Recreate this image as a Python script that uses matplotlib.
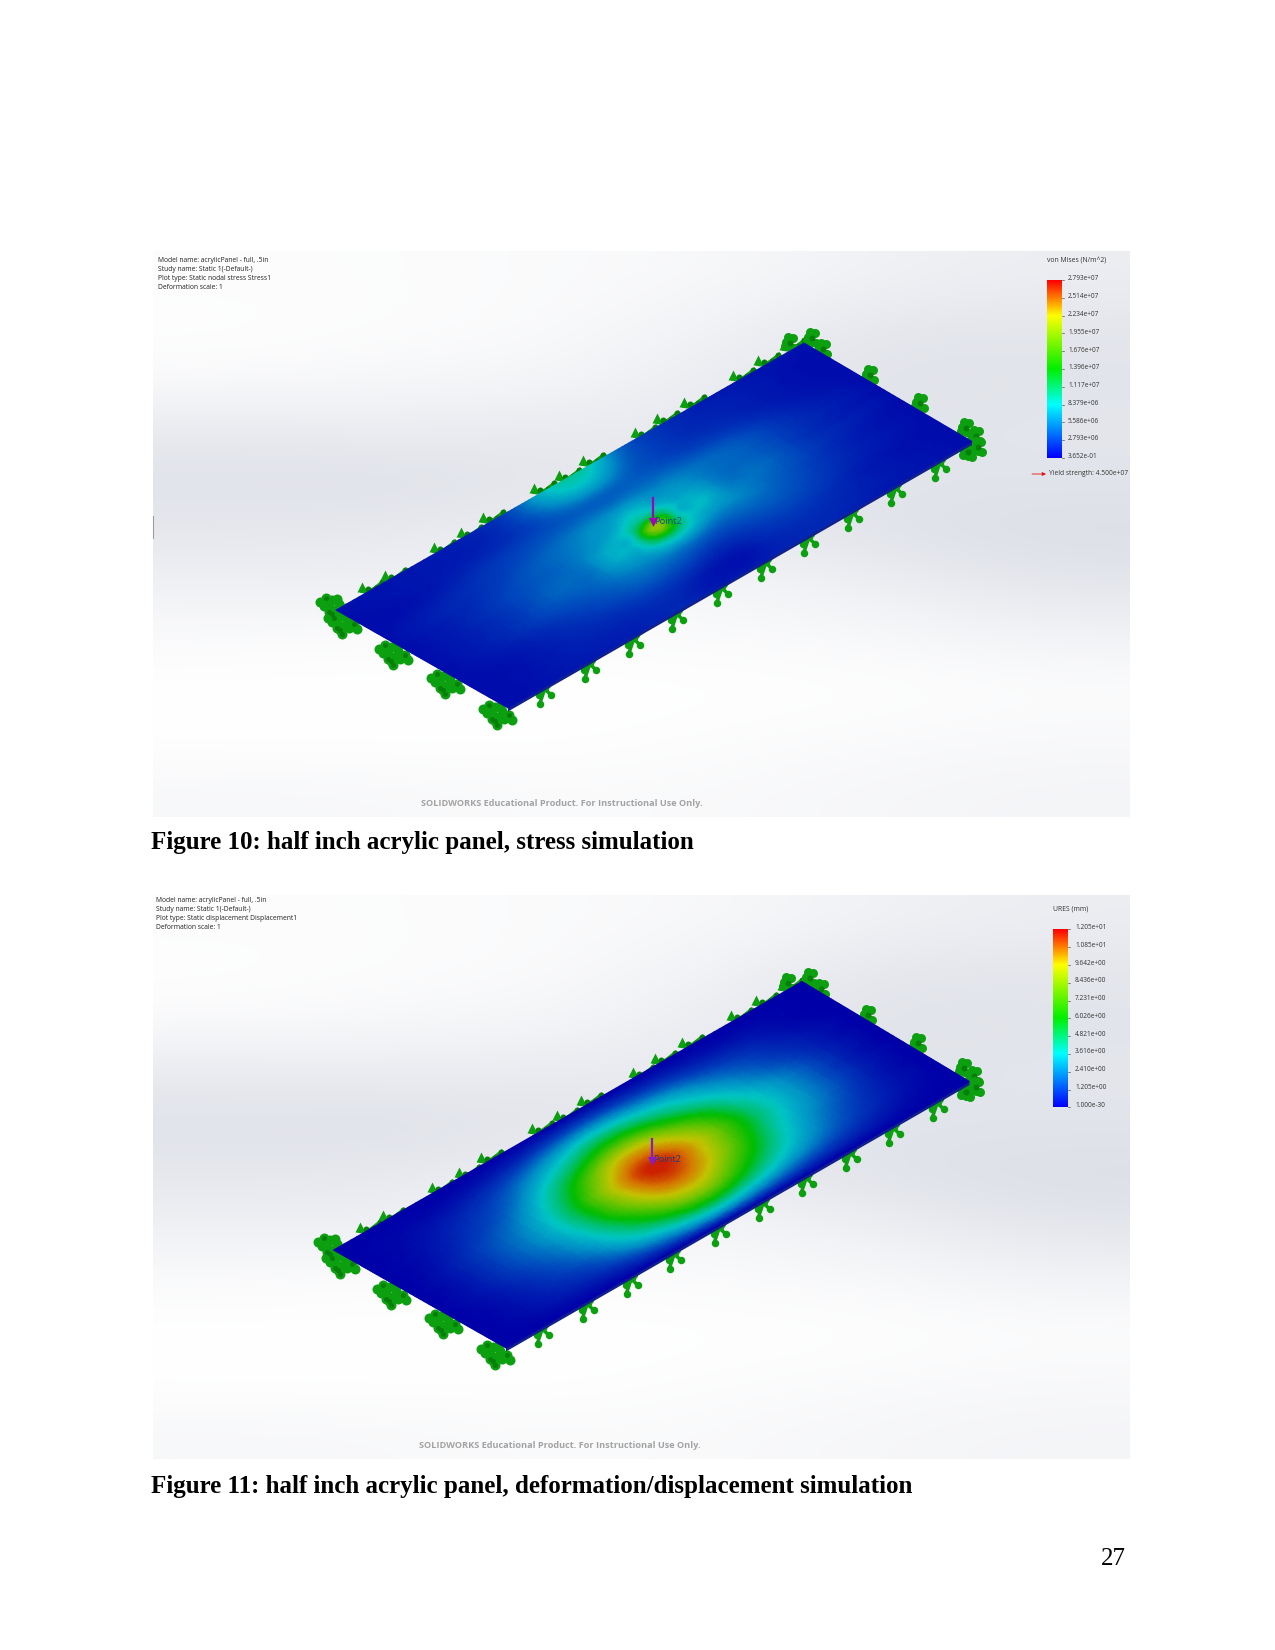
import matplotlib
matplotlib.use("Agg")
import numpy as np
import matplotlib.pyplot as plt
import matplotlib.tri as mtri
from matplotlib.colors import LinearSegmentedColormap
from matplotlib.patches import Polygon

# ---- data -----------------------------------------------------------------
U_POS = [0, .1, .2, .3, .36, .42, .46, .5, .54, .58, .64, .7, .8, .9, 1]
V_POS = [0, .1, .2, .3, .38, .44, .5, .56, .62, .7, .8, .9, 1]

# von Mises stress, percent of the scale maximum
STRESS = [
    [3, 3, 4, 6, 10, 22, 32, 36, 32, 20, 10, 7, 4, 3, 3],
    [2, 3, 4, 6, 10, 18, 24, 26, 22, 15, 10, 7, 5, 3, 2],
    [2, 3, 6, 9, 11, 13, 14, 14, 14, 13, 11, 9, 6, 3, 2],
    [2, 5, 8, 12, 15, 18, 19, 20, 19, 18, 16, 14, 9, 4, 2],
    [2, 5, 9, 14, 17, 21, 25, 30, 25, 22, 18, 15, 10, 5, 2],
    [2, 5, 10, 14, 18, 24, 32, 42, 34, 25, 19, 15, 10, 5, 2],
    [2, 5, 10, 15, 19, 26, 38, 70, 38, 27, 20, 16, 10, 5, 2],
    [2, 5, 10, 15, 19, 26, 38, 56, 36, 26, 20, 16, 10, 5, 2],
    [2, 5, 10, 14, 18, 22, 28, 32, 26, 20, 18, 15, 9, 4, 2],
    [2, 4, 8, 12, 15, 17, 17, 16, 14, 13, 14, 13, 8, 4, 2],
    [2, 3, 6, 9, 11, 11, 10, 8, 7, 8, 10, 10, 6, 3, 2],
    [2, 3, 5, 6, 7, 6, 4, 3, 3, 5, 7, 7, 5, 3, 2],
    [2, 3, 4, 5, 6, 5, 4, 4, 4, 5, 6, 6, 4, 3, 2],
]
# resultant displacement, percent of the scale maximum
DISPLACEMENT = [
    [0, 0, 0, 0, 0, 0, 0, 0, 0, 0, 0, 0, 0, 0, 0],
    [0, 1, 2, 5, 8, 12, 14, 15, 14, 12, 9, 6, 3, 1, 0],
    [0, 2, 6, 13, 21, 30, 36, 38, 36, 31, 24, 16, 8, 2, 0],
    [0, 3, 9, 21, 35, 49, 58, 62, 59, 51, 38, 26, 12, 4, 0],
    [0, 4, 12, 28, 46, 65, 77, 82, 78, 67, 51, 34, 16, 5, 0],
    [0, 5, 14, 32, 52, 73, 87, 93, 88, 76, 58, 39, 19, 6, 0],
    [0, 5, 15, 34, 56, 79, 94, 100, 95, 82, 62, 42, 20, 6, 0],
    [0, 5, 15, 34, 55, 78, 93, 99, 94, 81, 61, 42, 20, 6, 0],
    [0, 5, 14, 32, 53, 74, 88, 94, 89, 77, 58, 39, 19, 6, 0],
    [0, 4, 12, 28, 46, 65, 77, 82, 78, 67, 51, 34, 16, 5, 0],
    [0, 3, 9, 21, 35, 49, 58, 62, 59, 51, 38, 26, 12, 4, 0],
    [0, 2, 5, 11, 18, 26, 31, 33, 31, 27, 20, 14, 7, 2, 0],
    [0, 0, 0, 0, 0, 0, 0, 0, 0, 0, 0, 0, 0, 0, 0],
]
# viewport background brightness
BACKGROUND = [
    [252, 252, 250, 248, 240, 236],
    [254, 252, 250, 240, 228, 228],
    [250, 247, 245, 234, 224, 226],
    [232, 235, 232, 232, 226, 228],
    [224, 222, 228, 232, 226, 226],
    [230, 232, 238, 234, 224, 220],
    [240, 238, 245, 245, 238, 228],
    [250, 252, 252, 250, 248, 242],
    [255, 255, 255, 255, 254, 252],
    [255, 255, 255, 252, 250, 248],
    [247, 248, 250, 249, 246, 244],
]

STRESS_LABELS = ["2.793e+07", "2.514e+07", "2.234e+07", "1.955e+07", "1.676e+07", "1.396e+07",
                 "1.117e+07", "8.379e+06", "5.586e+06", "2.793e+06", "3.652e-01"]
DISP_LABELS = ["1.205e+01", "1.085e+01", "9.642e+00", "8.436e+00", "7.231e+00", "6.026e+00",
               "4.821e+00", "3.616e+00", "2.410e+00", "1.205e+00", "1.000e-30"]
STRESS_HEADER = ["Model name: acrylicPanel - full, .5in", "Study name: Static 1(-Default-)",
                 "Plot type: Static nodal stress Stress1", "Deformation scale: 1"]
DISP_HEADER = ["Model name: acrylicPanel - full, .5in", "Study name: Static 1(-Default-)",
               "Plot type: Static displacement Displacement1", "Deformation scale: 1"]
WATERMARK = "SOLIDWORKS Educational Product. For Instructional Use Only."
CAPTION_1 = "Figure 10: half inch acrylic panel, stress simulation"
CAPTION_2 = "Figure 11: half inch acrylic panel, deformation/displacement simulation"
PAGE_NUMBER = "27"

# fixture locations on the first view, page pixels
TOP_EDGE = [(362, 587), (385, 575), (434, 547), (461, 532), (483, 517), (534, 488), (559, 475),
            (583, 460), (635, 432), (657, 418), (684, 402), (733, 375), (758, 360), (784, 345)]
LOW_EDGE = [(552, 683), (597, 658), (641, 633), (684, 608), (729, 582), (773, 557), (816, 532),
            (860, 507), (903, 482), (947, 457)]
CLOVERS = [(870, 375), (920, 403), (966, 428), (976, 436), (978, 447), (968, 452),
           (790, 343), (812, 338), (823, 349)]
BLOBS = [(393, 653), (445, 682), (497, 713), (342, 622), (334, 606)]

PANEL_1 = dict(box=(153, 251, 1130, 817), L=(336, 610), T=(804, 343), R=(972, 441.5), B=(508, 708))
PANEL_2 = dict(box=(153, 895, 1130, 1459), L=(333.5, 1250), T=(802, 981.5), R=(969.5, 1081.5), B=(506, 1348))

# ---- colours ---------------------------------------------------------------
plate_cmap = LinearSegmentedColormap.from_list("plate", [
    (0.00, "#0000a8"), (0.10, "#0040bc"), (0.20, "#0090c6"), (0.30, "#00c6c6"),
    (0.34, "#00c4a8"), (0.42, "#00bf60"), (0.50, "#00bd00"), (0.65, "#70c400"), (0.78, "#c4c400"),
    (0.90, "#d67800"), (1.00, "#cc2000")])
legend_cmap = LinearSegmentedColormap.from_list("legend", [
    (0.00, "#0000ff"), (0.30, "#00ffff"), (0.50, "#00f000"), (0.80, "#ffff00"), (1.00, "#ff0000")])
bg_cmap = LinearSegmentedColormap.from_list("bg", ["#d8dbe4", "#ffffff"])

SANS = "Open Sans"
SERIF = "Liberation Serif"
GREEN = "#0c9f10"
DARK_GREEN = "#067f08"

fig = plt.figure(figsize=(8.5, 11), dpi=150, facecolor="white")
ax = fig.add_axes([0, 0, 1, 1])
ax.set_xlim(0, 1275)
ax.set_ylim(1650, 0)
ax.axis("off")


def px(d):
    """Marker area for a diameter given in page pixels."""
    return (d * 72 / 150) ** 2


def lw(d):
    return d * 72 / 150


def fixtures(dx, dy):
    for x, y in TOP_EDGE:
        x += dx; y += dy
        ax.scatter([x], [y], s=px(10), marker="^", color=GREEN, linewidths=0, zorder=3)
        ax.plot([x, x + 6, x + 12, x + 21], [y + 4, y + 5, y + 2, y - 5], color=GREEN, lw=lw(4), zorder=3)
        ax.scatter([x + 6, x + 14, x + 20], [y + 2, y + 1, y - 5], s=px(6), color=DARK_GREEN, linewidths=0, zorder=3)
    for x, y in LOW_EDGE:
        x += dx; y += dy
        ax.plot([x, x - 7, x - 12], [y, y + 5, y + 20], color=GREEN, lw=lw(3.5), zorder=3)
        ax.plot([x - 13, x - 7, x - 1], [y + 13, y + 6, y + 12], color=GREEN, lw=lw(3.5), zorder=3)
        ax.scatter([x - 7, x - 1, x - 13, x - 12], [y + 5, y + 12, y + 12, y + 21], s=px(7.5), color=GREEN, linewidths=0, zorder=3)
        ax.scatter([x - 5], [y + 2], s=px(7), color=GREEN, linewidths=0, zorder=3)
    for x, y in CLOVERS:
        x += dx; y += dy
        ax.scatter([x - 4, x + 3, x, x + 4, x - 2, x - 5], [y - 1, y - 5, y + 4, y + 5, y - 6, y + 3], s=px(9), color=GREEN, linewidths=0, zorder=3)
        ax.scatter([x], [y], s=px(6), color=DARK_GREEN, linewidths=0, zorder=3)
    for x, y in BLOBS:
        x += dx; y += dy
        xs = [x - 14, x - 8, x - 2, x + 5, x + 12, x - 5, x + 1, x, x - 10, x + 7, x - 2, x + 3, x + 15, x - 5]
        ys = [y - 4, y - 8, y - 6, y - 2, y + 2, y + 1, y + 4, y + 12, y + 0, y + 6, y + 8, y - 7, y + 7, y + 6]
        ax.scatter(xs, ys, s=px(10), color=GREEN, linewidths=0, zorder=3)
        ax.scatter(xs[1::3], ys[1::3], s=px(5), color=DARK_GREEN, linewidths=0, zorder=3)


def field(panel, table):
    L, T, R, B = [np.array(panel[k], float) for k in "LTRB"]
    ax.add_patch(Polygon([B, R, R + (0, 3.5), B + (0, 3.5)], closed=True, fc="#10208c", ec="none", zorder=4))
    uu, vv = np.meshgrid(U_POS, V_POS)
    n_u, n_v = len(U_POS), len(V_POS)
    cells = []
    for j in range(n_v - 1):
        for i in range(n_u - 1):
            p = j * n_u + i
            cells += [[p, p + 1, p + n_u], [p + 1, p + n_u + 1, p + n_u]]
    tri = mtri.Triangulation(uu.ravel(), vv.ravel(), triangles=np.array(cells))
    fine, values = mtri.UniformTriRefiner(tri).refine_field(np.array(table, float).ravel(), subdiv=3)
    u, v = fine.x, fine.y
    # place the plate's local coordinates between its four corners on the page
    xy = np.outer(1 - u - v + u * v, L) + np.outer(u * (1 - v), T) + np.outer(u * v, R) + np.outer((1 - u) * v, B)
    page = mtri.Triangulation(xy[:, 0], xy[:, 1], triangles=fine.triangles)
    ax.tripcolor(page, values, shading="gouraud", cmap=plate_cmap, vmin=0, vmax=100, zorder=5)


def view(panel, table, header, hx, hy, labels, title, bar_x, bar_y, label_x, label_y, title_x, title_y,
         wm_x, wm_y, arrow_color, text_color, arrow_x, arrow_top, arrow_tip):
    x0, y0, x1, y1 = panel["box"]
    ax.imshow(BACKGROUND, extent=(x0, x1, y1, y0), cmap=bg_cmap, vmin=216, vmax=255,
              interpolation="bicubic", aspect="auto", zorder=1)
    dx = panel["L"][0] - PANEL_1["L"][0]
    dy = panel["L"][1] - PANEL_1["L"][1]
    fixtures(dx, dy)
    field(panel, table)
    ax.plot([arrow_x, arrow_x], [arrow_top, arrow_tip - 6], color=arrow_color, lw=lw(2.2), zorder=7)
    ax.scatter([arrow_x], [arrow_tip - 5], s=px(9), marker="v", color=arrow_color, linewidths=0, zorder=7)
    ax.text(arrow_x + 1.5, arrow_tip - 6, "Point2", fontsize=4.5, family=SANS, color=text_color,
            va="center", ha="left", zorder=6)
    for i, line in enumerate(header):
        ax.text(hx, hy + i * 9, line, fontsize=3.22, family=SANS, color="#222222", va="center", zorder=8)
    ax.text(title_x, title_y, title, fontsize=3.3, family=SANS, color="#333333", va="center", ha="center", zorder=8)
    ramp = np.linspace(1, 0, 256).reshape(-1, 1)
    ax.imshow(ramp, extent=(bar_x, bar_x + 15, bar_y + 178, bar_y), cmap=legend_cmap, vmin=0, vmax=1,
              aspect="auto", zorder=8)
    for i, lab in enumerate(labels):
        ax.text(label_x, label_y + i * 17.77, lab, fontsize=3.15, family=SANS, color="#333333", va="center", zorder=8)
        tick_y = bar_y + i * 17.8
        ax.plot([bar_x + 15, bar_x + 17], [tick_y, tick_y], color="#444444", lw=0.3, zorder=8)
    ax.text(wm_x, wm_y, WATERMARK, fontsize=4.38, family=SANS, fontweight="bold", color="#a3a3a3",
            va="center", zorder=8)
    ax.set_xlim(0, 1275)
    ax.set_ylim(1650, 0)


view(PANEL_1, STRESS, STRESS_HEADER, 158, 260.5, STRESS_LABELS, "von Mises (N/m^2)",
     1046.7, 280, 1068, 279, 1077, 260.5, 421, 803, "#a400b8", "#0b4e96", 652.7, 498, 527)
view(PANEL_2, DISPLACEMENT, DISP_HEADER, 155.5, 900.5, DISP_LABELS, "URES (mm)",
     1052.7, 929.3, 1075, 927.5, 1070.7, 909, 419, 1445, "#8a1cc8", "#2a3a80", 651.5, 1139, 1166)

# yield marker on the stress legend
ax.annotate("", xy=(1046, 474), xytext=(1032, 474), zorder=8,
            arrowprops=dict(arrowstyle="-|>", color="#e01010", lw=0.4, mutation_scale=3.5, shrinkA=0, shrinkB=0))
ax.text(1049, 473.5, "Yield strength: 4.500e+07", fontsize=3.2, family=SANS, color="#333333", va="center", zorder=8)

# small grey mark on the first view's left side
ax.plot([153, 153], [516, 538], color="#9a9a9a", lw=0.5, zorder=8)

ax.text(151, 842, CAPTION_1, fontsize=12, family=SERIF, fontweight="bold", color="black", va="center")
ax.text(151, 1486, CAPTION_2, fontsize=12, family=SERIF, fontweight="bold", color="black", va="center")
ax.text(1113, 1559, PAGE_NUMBER, fontsize=12, family=SERIF, color="black", va="center", ha="center")

fig.savefig("out.png", dpi=150, facecolor="white")
